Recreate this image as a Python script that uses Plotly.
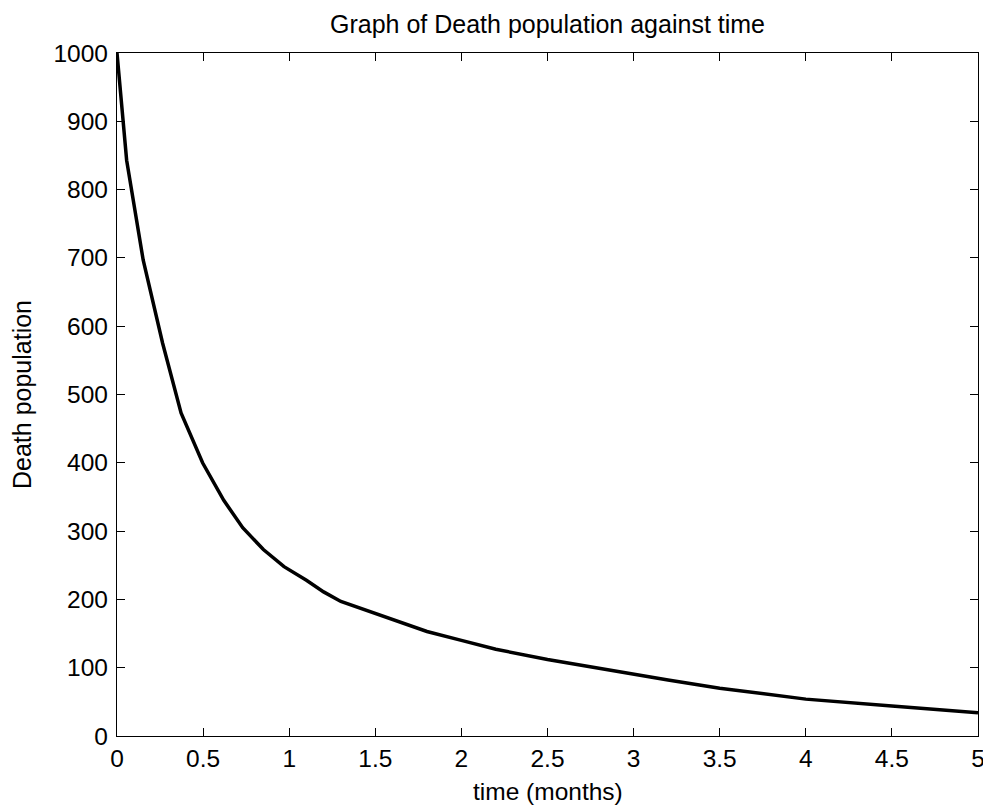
import plotly.graph_objects as go

# values
time_months = [0, 0.056, 0.152, 0.265, 0.372, 0.497, 0.62, 0.73, 0.85, 0.97,
               1.1, 1.2, 1.3, 1.5, 1.65, 1.8, 2.0, 2.2, 2.5, 2.8,
               3.0, 3.2, 3.5, 4.0, 4.5, 5.0]
deaths = [1000, 843, 697, 575, 473, 400, 345, 305, 273, 248,
          228, 211, 197, 179, 166, 153, 140, 127, 112, 99,
          90, 82, 70, 54, 44, 34]

x_ticks = [0, 0.5, 1, 1.5, 2, 2.5, 3, 3.5, 4, 4.5, 5]
y_ticks = [0, 100, 200, 300, 400, 500, 600, 700, 800, 900, 1000]

FONT = "Liberation Sans, Arial, sans-serif"

# the page body has an 8px margin, so the figure is drawn 8px smaller
W, H = 983, 797
plot_top, plot_bottom = 45, 728

fig = go.Figure()
fig.add_trace(go.Scatter(x=time_months, y=deaths, mode="lines",
                         line=dict(color="black", width=3.5)))

axis_style = dict(showline=True, linecolor="black", linewidth=1.3, mirror="ticks",
                  ticks="inside", ticklen=8, tickcolor="black", showgrid=False,
                  zeroline=False, tickfont=dict(size=24.5, color="black"),
                  ticklabeloverflow="allow")

fig.update_xaxes(range=[0, 5], tickvals=x_ticks, ticktext=[f"{v:g}" for v in x_ticks],
                 **axis_style)
fig.update_yaxes(range=[0, 1000], tickvals=y_ticks, ticktext=[str(v) for v in y_ticks],
                 title=dict(text="Death population", font=dict(size=25), standoff=20),
                 ticklabelstandoff=3, **axis_style)

fig.add_annotation(text="time (months)", xref="paper", yref="paper",
                   x=0.5, y=-(783 - plot_bottom) / (plot_bottom - plot_top),
                   xanchor="center", yanchor="middle",
                   showarrow=False, font=dict(size=24.5, color="black"))

fig.update_layout(
    width=W, height=H,
    margin=dict(l=109, r=6, t=plot_top, b=H - plot_bottom),
    paper_bgcolor="white", plot_bgcolor="white",
    font=dict(family=FONT, color="black", size=25),
    showlegend=False,
    title=dict(text="Graph of Death population against time", x=0.5,
               xanchor="center", xref="paper", y=1 - 16 / H, yanchor="middle",
               font=dict(size=25)),
)

fig.write_html("out.html")
